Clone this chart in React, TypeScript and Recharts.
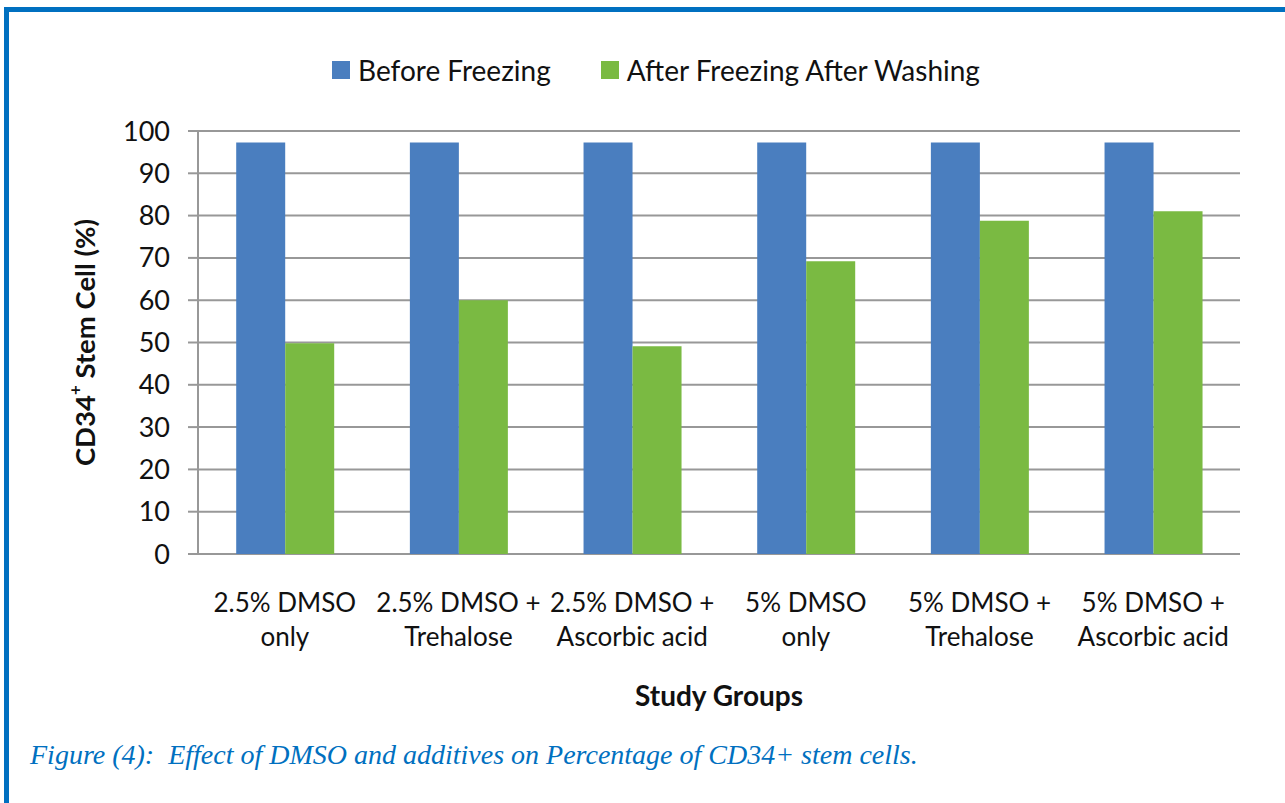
import React from "react";
import {
  BarChart,
  Bar,
  XAxis,
  YAxis,
  CartesianGrid,
  Legend,
} from "recharts";

const categories = [
  "2.5% DMSO\nonly",
  "2.5% DMSO +\nTrehalose",
  "2.5% DMSO +\nAscorbic acid",
  "5% DMSO\nonly",
  "5% DMSO +\nTrehalose",
  "5% DMSO +\nAscorbic acid",
];
const beforeFreezing = [97.3, 97.3, 97.3, 97.3, 97.3, 97.3];
const afterFreezingAfterWashing = [49.8, 60.0, 49.1, 69.2, 78.8, 81.0];
const yTicks = [0, 10, 20, 30, 40, 50, 60, 70, 80, 90, 100];
const groupBoundaries = [0, 1, 2, 3, 4, 5, 6];
const seriesNames = ["Before Freezing", "After Freezing After Washing"];

const BLUE = "#4a7ebf";
const GREEN = "#7aba42";
const GRID = "#989898";
const FONT = "Lato, 'Open Sans', sans-serif";

const data = categories.map((group, i) => ({
  group,
  before: beforeFreezing[i],
  after: afterFreezingAfterWashing[i],
}));

const CatTick = (props: any) => {
  const { x, y, payload } = props;
  const lines = String(payload.value).split("\n");
  return (
    <text
      x={x}
      y={y}
      textAnchor="middle"
      fontFamily={FONT}
      fontSize={26}
      fill="#111"
    >
      {lines.map((l, i) => (
        <tspan key={i} x={x} dy={i === 0 ? 50 : 34}>
          {l}
        </tspan>
      ))}
    </text>
  );
};

const LegendContent = () => (
  <div
    style={{
      display: "flex",
      alignItems: "center",
      fontFamily: FONT,
      fontSize: 28,
      color: "#111",
      whiteSpace: "nowrap",
      height: 40,
    }}
  >
    {[BLUE, GREEN].map((c, i) => (
      <div
        key={i}
        style={{ display: "flex", alignItems: "center", marginRight: 50 }}
      >
        <span
          style={{
            display: "inline-block",
            width: 18,
            height: 18,
            background: c,
            marginRight: 8,
          }}
        />
        <span>{seriesNames[i]}</span>
      </div>
    ))}
  </div>
);

const YTitle = (props: any) => {
  const { viewBox } = props;
  const cx = viewBox.x + 84;
  const cy = viewBox.y + viewBox.height / 2;
  return (
    <text
      x={cx}
      y={cy}
      transform={`rotate(-90 ${cx} ${cy})`}
      textAnchor="middle"
      dominantBaseline="central"
      fontFamily={FONT}
      fontWeight={700}
      fontSize={27.5}
      fill="#111"
    >
      CD34
      <tspan dy={-10} fontSize={17}>
        +
      </tspan>
      <tspan dy={10}> Stem Cell (%)</tspan>
    </text>
  );
};

export default function App() {
  return (
    <div
      style={{
        position: "absolute",
        left: 0,
        top: 0,
        width: 1285,
        height: 803,
        background: "#fff",
        overflow: "hidden",
      }}
    >
      <div
        style={{
          position: "absolute",
          left: 4,
          top: 7,
          right: 0,
          bottom: 0,
          borderTop: "5px solid #0070c0",
          borderLeft: "5px solid #0070c0",
        }}
      />
      <div style={{ position: "absolute", left: 0, top: 0 }}>
        <BarChart
          width={1285}
          height={803}
          data={data}
          margin={{ top: 91, right: 45, left: 0, bottom: 97 }}
          barCategoryGap="22%"
          barGap={0}
        >
          <CartesianGrid
            vertical={false}
            stroke={GRID}
            strokeWidth={2}
            xAxisId="cat"
          />
          <XAxis
            xAxisId="bound"
            type="number"
            domain={[0, 6]}
            ticks={groupBoundaries}
            tick={false}
            tickSize={10}
            height={0}
            axisLine={{ stroke: GRID, strokeWidth: 2 }}
            tickLine={{ stroke: GRID, strokeWidth: 2 }}
          />
          <XAxis
            xAxisId="cat"
            dataKey="group"
            interval={0}
            axisLine={false}
            tickLine={false}
            tick={<CatTick />}
            height={152}
            label={{
              value: "Study Groups",
              position: "insideBottom",
              offset: 0,
              style: {
                fontFamily: FONT,
                fontWeight: 700,
                fontSize: 28,
                fill: "#111",
              },
            }}
          />
          <YAxis
            width={198}
            domain={[0, 100]}
            ticks={yTicks}
            interval={0}
            tickSize={10}
            tickMargin={18}
            axisLine={{ stroke: GRID, strokeWidth: 2 }}
            tickLine={{ stroke: GRID, strokeWidth: 2 }}
            tick={{ fontFamily: FONT, fontSize: 27, fill: "#111" }}
            label={<YTitle />}
          />
          <Legend
            verticalAlign="top"
            content={<LegendContent />}
            wrapperStyle={{ top: 50, left: 332, width: 850 }}
          />
          <Bar
            xAxisId="cat"
            dataKey="before"
            name={seriesNames[0]}
            fill={BLUE}
            isAnimationActive={false}
          />
          <Bar
            xAxisId="cat"
            dataKey="after"
            name={seriesNames[1]}
            fill={GREEN}
            isAnimationActive={false}
          />
        </BarChart>
      </div>
      <div
        style={{
          position: "absolute",
          left: 30,
          top: 739,
          fontFamily: "'Liberation Serif', 'Times New Roman', serif",
          fontStyle: "italic",
          fontSize: 28,
          color: "#0070c0",
          whiteSpace: "pre",
        }}
      >
        {"Figure (4):  Effect of DMSO and additives on Percentage of CD34+ stem cells."}
      </div>
    </div>
  );
}
